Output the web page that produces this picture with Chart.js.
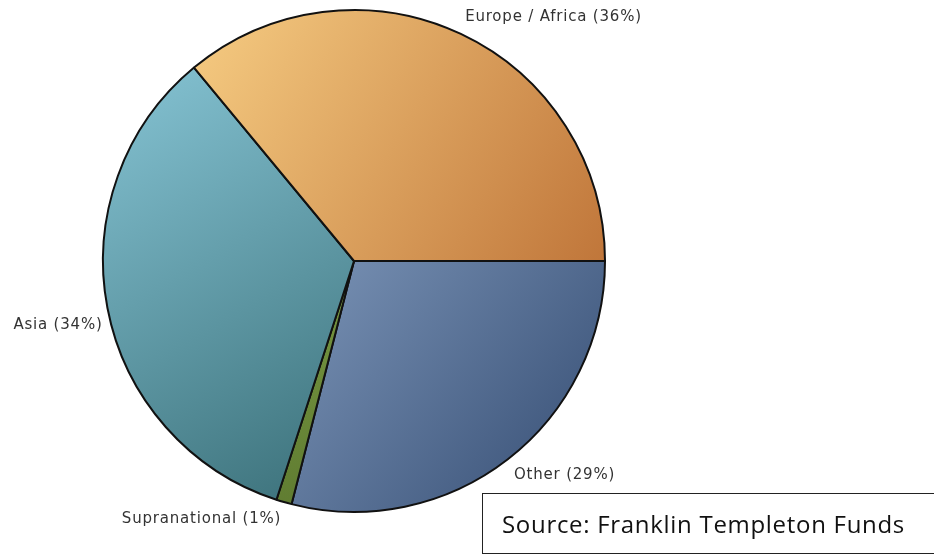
<!DOCTYPE html>
<html>
<head>
<title>Regional allocation</title>
<style>
  html, body { margin: 0; padding: 0; background: #fff; }
  #wrap { position: relative; width: 934px; height: 555px; }
  #source {
    position: absolute; left: 482px; top: 493px; width: 470px; height: 61px;
    border: 1.5px solid #222; box-sizing: border-box;
    font-family: "Open Sans", Lato, sans-serif; font-size: 24px; letter-spacing: 0.7px; color: #111;
    padding-left: 19px; line-height: 59px;
  }
</style>
</head>
<body>
<div id="wrap">
  <canvas id="myChart" width="934" height="555"></canvas>
  <div id="source">Source: Franklin Templeton Funds</div>
</div>

<script src="https://cdn.jsdelivr.net/npm/chart.js"></script>
<script>
// slices run clockwise starting at 3 o'clock
const regions = ['Other', 'Supranational', 'Asia', 'Europe / Africa'];
const shares = [29, 1, 34, 36];
const lightColors = ['#7a93b6', '#7a9a44', '#86c4d4', '#f6cc82'];
const darkColors = ['#344c72', '#5e7a30', '#3a6f78', '#c0763a'];

const ROTATION = 90;
// small nudges for the label next to the left side of the pie
const labelNudge = { Asia: [5, 8] };

// diagonal gradient across each slice's bounding box
function sliceGradient(ctx) {
  const chart = ctx.chart;
  const area = chart.chartArea;
  const i = ctx.dataIndex;
  if (!area || i === undefined) return lightColors[i] || '#ccc';
  const meta = chart.getDatasetMeta(0);
  const arc = meta.data[i];
  if (!arc || !arc.outerRadius) return lightColors[i];
  const cx = arc.x, cy = arc.y, r = arc.outerRadius;
  const a0 = arc.startAngle, a1 = arc.endAngle;
  const xs = [cx], ys = [cy];
  const steps = 24;
  for (let k = 0; k <= steps; k++) {
    const a = a0 + (a1 - a0) * k / steps;
    xs.push(cx + r * Math.cos(a));
    ys.push(cy + r * Math.sin(a));
  }
  const x0 = Math.min(...xs), x1 = Math.max(...xs);
  const y0 = Math.min(...ys), y1 = Math.max(...ys);
  const g = chart.ctx.createLinearGradient(x0, y0, x1, y1);
  g.addColorStop(0, lightColors[i]);
  g.addColorStop(1, darkColors[i]);
  return g;
}

const outsideLabels = {
  id: 'outsideLabels',
  afterDatasetsDraw(chart) {
    const ctx = chart.ctx;
    const meta = chart.getDatasetMeta(0);
    ctx.save();
    ctx.font = '15px "DejaVu Sans", Verdana, sans-serif';
    ctx.letterSpacing = '0.8px';
    ctx.fillStyle = '#333';
    meta.data.forEach((arc, i) => {
      const mid = (arc.startAngle + arc.endAngle) / 2;
      const r = arc.outerRadius + 10;
      const c = Math.cos(mid), s = Math.sin(mid);
      const nudge = labelNudge[regions[i]] || [0, 0];
      const x = arc.x + r * c + nudge[0];
      const y = arc.y + r * s + nudge[1];
      ctx.textAlign = c >= 0 ? 'left' : 'right';
      ctx.textBaseline = s >= 0 ? 'top' : 'bottom';
      ctx.fillText(regions[i] + ' (' + shares[i] + '%)', x, y);
    });
    ctx.restore();
  }
};

const myChart = new Chart(document.getElementById('myChart'), {
  type: 'pie',
  data: {
    labels: regions,
    datasets: [{
      data: shares,
      backgroundColor: sliceGradient,
      borderColor: '#111',
      borderWidth: 2
    }]
  },
  options: {
    responsive: false,
    animation: false,
    rotation: ROTATION,
    layout: { padding: { left: 102, right: 328, top: 9, bottom: 42 } },
    plugins: {
      legend: { display: false },
      tooltip: { enabled: false }
    }
  },
  plugins: [outsideLabels]
});
// second pass so the gradients see the laid-out arcs
myChart.update();
</script>
</body>
</html>
